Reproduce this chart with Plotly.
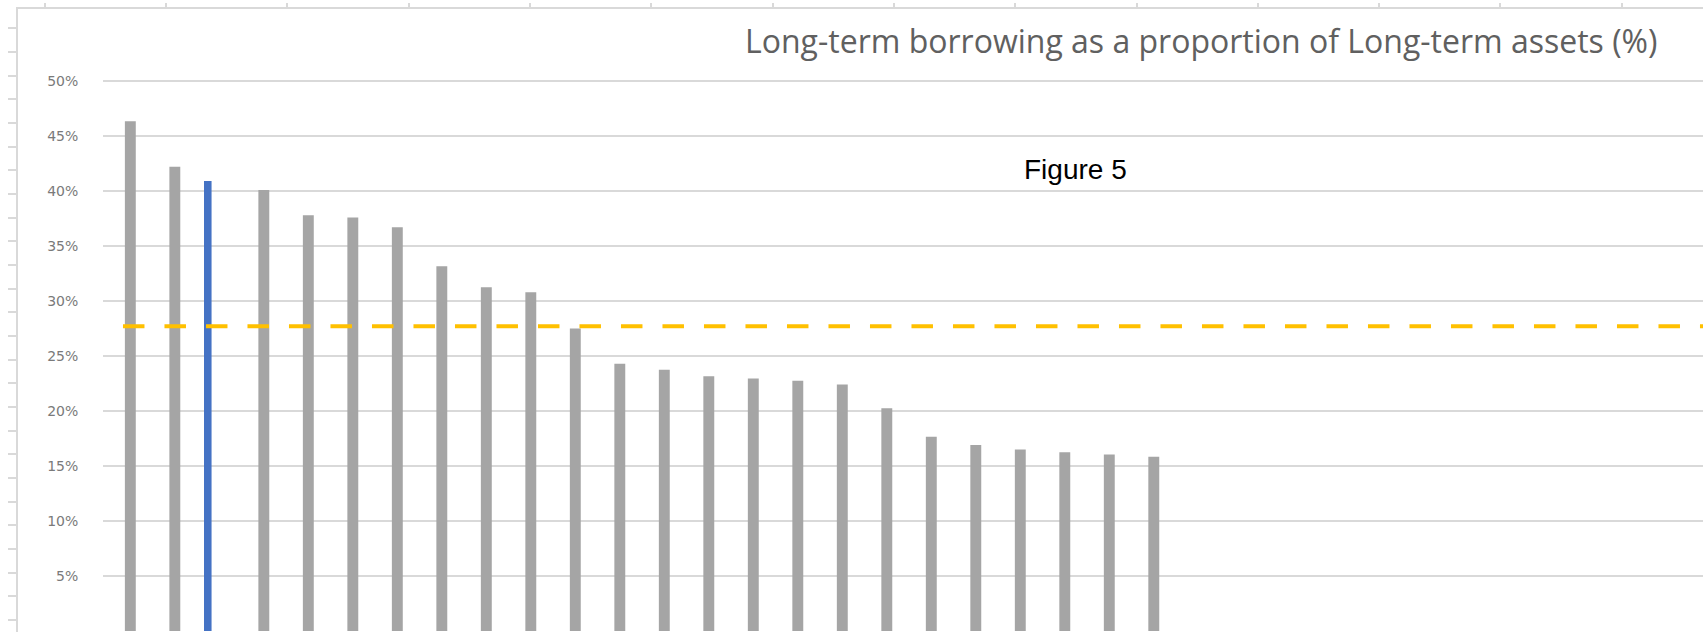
import plotly.graph_objects as go

# ---- data ----
categories = ["A", "B", "C", "D", "E", "F", "G", "H", "I", "J", "K", "L",
              "M", "N", "O", "P", "Q", "R", "S", "T", "U", "V", "W", "X"]
others_pct = [46.35, 42.2, None, 40.1, 37.8, 37.6, 36.7, 33.15, 31.25, 30.8, 27.5, 24.3,
              23.75, 23.15, 22.95, 22.75, 22.4, 20.25, 17.65, 16.9, 16.5, 16.25, 16.05, 15.85]
highlight_pct = [None, None, 40.9, None, None, None, None, None, None, None, None, None,
                 None, None, None, None, None, None, None, None, None, None, None, None]
average_pct = 27.7
y_ticks = [0, 5, 10, 15, 20, 25, 30, 35, 40, 45, 50]
title_text = "Long-term borrowing as a proportion of Long-term assets (%)"
figure_label = "Figure 5"

W, H = 1703, 632
GRID = "#d9d9d9"
Y_TOP = 50.5                      # small headroom so the 50% gridline is drawn
PX_PER_PCT = (631 - 81) / 50.0
top_px = 631 - Y_TOP * PX_PER_PCT

fig = go.Figure()

fig.add_trace(go.Bar(
    x=categories, y=others_pct, marker=dict(color="#A5A5A5", line=dict(width=0)),
    width=0.245, offset=-0.015, hoverinfo="skip"))
fig.add_trace(go.Bar(
    x=categories, y=highlight_pct, marker=dict(color="#4472C4", line=dict(width=0)),
    width=0.17, offset=-0.237, hoverinfo="skip"))

# empty trace that carries the outer frame axes
fig.add_trace(go.Scatter(x=[], y=[], xaxis="x2", yaxis="y2", showlegend=False))

fig.add_hline(y=average_pct, x0=0.0123, x1=1,
              line=dict(color="#FFC000", width=4, dash="21.5px,20px"), layer="above")

left = 103.3 / W
fig.update_layout(
    template="none",
    width=W, height=H,
    margin=dict(l=0, r=0, t=0, b=0, pad=0),
    paper_bgcolor="white", plot_bgcolor="rgba(0,0,0,0)",
    showlegend=False, barmode="overlay",
    xaxis=dict(domain=[left, 1], type="category", categoryorder="array",
               categoryarray=categories, range=[-0.5, 35.45], automargin=False,
               showgrid=False, showline=False, zeroline=False,
               showticklabels=False, ticks=""),
    yaxis=dict(domain=[1 / H, 1 - top_px / H], range=[0, Y_TOP], automargin=False,
               tickvals=y_ticks, ticktext=[f"{v}%" for v in y_ticks],
               showgrid=True, gridcolor=GRID, gridwidth=1.5,
               zeroline=False, showline=False, ticks="",
               ticklabelstandoff=24,
               tickfont=dict(family="DejaVu Sans", size=14, color="#7a7a7a")),
    xaxis2=dict(domain=[17.5 / W, 1], anchor="y2", side="top", range=[0, W - 17.5],
                tick0=27.3, dtick=121.3, ticks="outside", ticklen=4, tickwidth=1.5,
                tickcolor=GRID, showline=True, linecolor=GRID, linewidth=1.5,
                showgrid=False, zeroline=False, showticklabels=False, automargin=False),
    yaxis2=dict(domain=[0, 1 - 8.5 / H], anchor="x2", side="left", range=[0, H - 8.5],
                tick0=12, dtick=23.67, ticks="outside", ticklen=8, tickwidth=1.5,
                tickcolor=GRID, showline=True, linecolor=GRID, linewidth=1.5,
                showgrid=False, zeroline=False, showticklabels=False, automargin=False),
    annotations=[
        dict(text=title_text, xref="paper", yref="paper", x=1201 / W, y=1 - 40 / H,
             xanchor="center", yanchor="middle", showarrow=False,
             font=dict(family="Open Sans, Lato, sans-serif", size=32, color="#606060")),
        dict(text=figure_label, xref="paper", yref="paper", x=1075.5 / W, y=1 - 169 / H,
             xanchor="center", yanchor="middle", showarrow=False,
             font=dict(family="Liberation Sans, Arial, sans-serif", size=28, color="black")),
    ],
)

fig.write_html("out.html")
